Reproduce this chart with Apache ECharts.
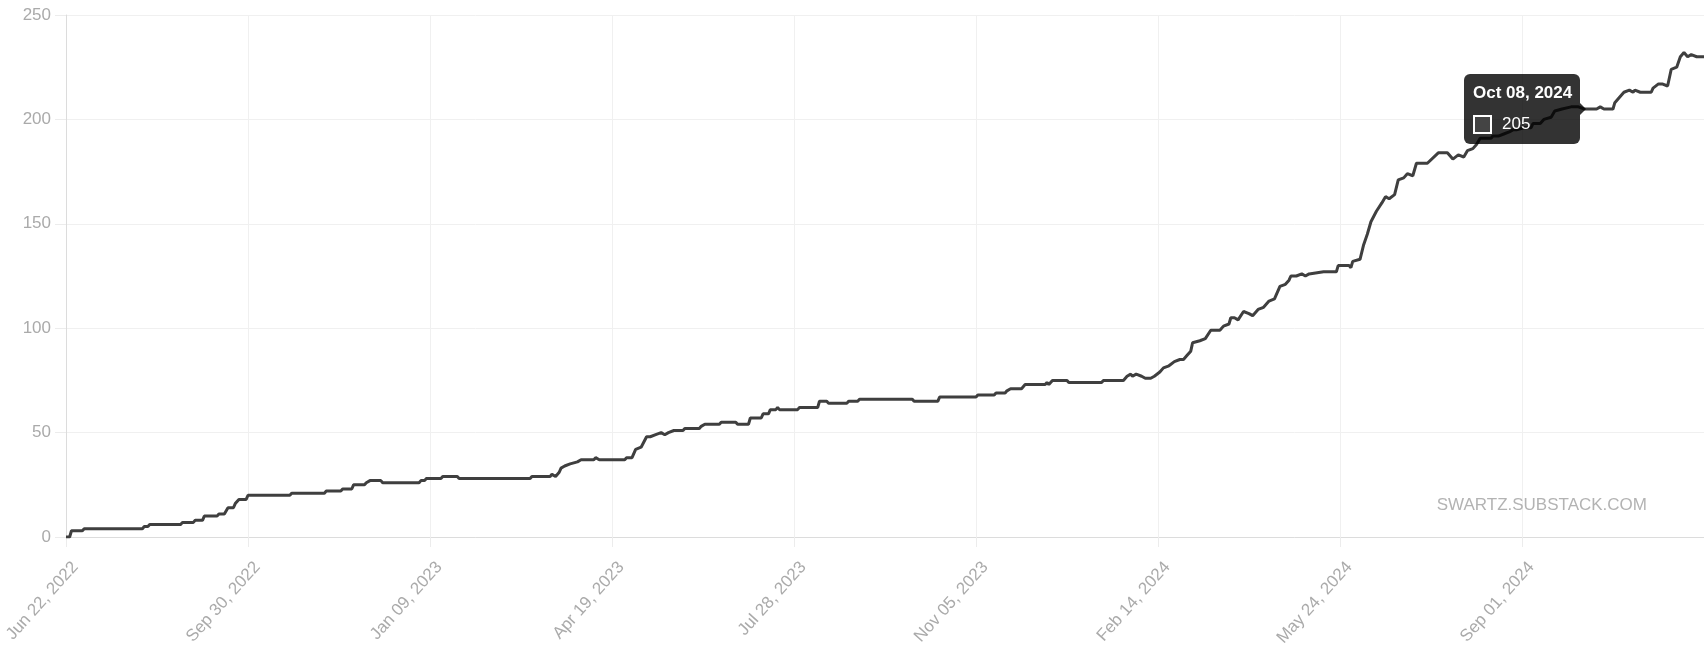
<!DOCTYPE html>
<html><head><meta charset="utf-8">
<script src="https://cdn.jsdelivr.net/npm/echarts@6/dist/echarts.min.js"></script>
<style>html,body{margin:0;padding:0;background:#fff}#c{width:1704px;height:651px}</style>
</head><body><div id="c"></div>
<script>
// x tick labels (one every 100 points)
const tickLabels = ['Jun 22, 2022','Sep 30, 2022','Jan 09, 2023','Apr 19, 2023','Jul 28, 2023','Nov 05, 2023','Feb 14, 2024','May 24, 2024','Sep 01, 2024'];
const lastIndex = 900;
// break points of the cumulative count (point index, value)
const dayIdx = [0,2,3,9,10,42,43,45,46,63,64,70,71,75,76,83,84,87,89,92,93,95,99,100,123,124,142,143,151,152,157,158,164,165,167,173,174,194,195,197,198,206,207,215,216,255,256,266,267,269,271,272,274,277,281,283,290,291,293,307,308,311,313,316,319,321,324,327,329,331,334,339,340,348,349,351,359,360,368,369,375,376,382,383,386,387,390,391,392,402,403,413,414,418,419,429,430,435,436,465,466,479,480,500,501,510,511,516,517,519,525,527,538,539,540,541,542,550,551,569,570,581,583,585,586,588,591,593,596,598,601,603,606,609,612,614,616,618,619,623,626,629,634,636,639,640,642,644,647,650,652,655,658,661,664,665,667,670,672,673,676,679,681,683,691,698,699,705,706,707,711,713,715,717,720,723,725,727,730,732,735,737,740,742,748,754,759,762,765,768,770,773,775,777,783,784,787,790,793,795,797,801,805,806,810,812,816,818,822,827,831,834,837,841,843,845,850,851,853,856,859,861,862,865,871,872,875,877,880,882,885,887,889,891,893,896,900];
const counts = [0,0,3,3,4,4,5,5,6,6,7,7,8,8,10,10,11,11,14,14,16,18,18,20,20,21,21,22,22,23,23,25,25,26,27,27,26,26,27,27,28,28,29,29,28,28,29,29,30,29,31,33,34,35,36,37,37,38,37,37,38,38,42,43,48,48,49,50,49,50,51,51,52,52,53,54,54,55,55,54,54,57,57,59,59,61,61,62,61,61,62,62,65,65,64,64,65,65,66,66,65,65,67,67,68,68,69,69,70,71,71,73,73,74,73,73,75,75,74,74,75,75,77,78,77,78,77,76,76,77,79,81,82,84,85,85,87,89,93,94,95,99,99,101,102,105,105,104,108,107,106,109,110,113,114,114,120,121,123,125,125,126,125,126,127,127,130,130,129,132,133,140,145,151,156,160,163,162,164,171,172,174,173,179,179,184,184,181,183,182,185,186,188,191,191,192,192,193,194,195,195,196,196,198,198,200,201,204,205,206,206,205,205,205,206,205,205,208,210,213,214,213,214,213,213,215,217,217,216,224,225,230,232,230,231,230,230];
const tipIndex = 837;
const tipLabel = 'Oct 08, 2024';
const watermark = 'SWARTZ.SUBSTACK.COM';

const FONT = "'Liberation Sans', Arial, Helvetica, sans-serif";
const seriesData = dayIdx.map((d, k) => [d, counts[k]]);
const tipDataIndex = dayIdx.indexOf(tipIndex);

const chart = echarts.init(document.getElementById('c'), null, {renderer: 'canvas'});
chart.setOption({
  animation: false,
  backgroundColor: '#fff',
  grid: {left: 66, right: 0, top: 15, bottom: 114, containLabel: false, outerBoundsMode: 'none'},
  xAxis: {
    type: 'value', min: 0, max: lastIndex, interval: 100,
    axisLine: {show: true, lineStyle: {color: '#dcdcdc', width: 1}},
    axisTick: {show: true, length: 10, lineStyle: {color: '#ececec'}},
    splitLine: {show: true, lineStyle: {color: '#f0f0f0', width: 1}},
    axisLabel: {
      rotate: 48, margin: 19, verticalAlign: 'top', padding: [4, 0, 0, 0], color: '#aaaaaa', fontSize: 17, fontFamily: FONT,
      showMaxLabel: false,
      formatter: v => (v % 100 === 0 && tickLabels[v / 100]) ? tickLabels[v / 100] : ''
    }
  },
  yAxis: {
    type: 'value', min: 0, max: 250, interval: 50,
    axisLine: {show: true, lineStyle: {color: '#dcdcdc', width: 1}},
    axisTick: {show: true, length: 11, lineStyle: {color: '#ececec'}},
    splitLine: {show: true, lineStyle: {color: '#f0f0f0', width: 1}},
    axisLabel: {margin: 15, color: '#aaaaaa', fontSize: 17, fontFamily: FONT}
  },
  tooltip: {
    trigger: 'item', triggerOn: 'none', alwaysShowContent: true, transitionDuration: 0,
    padding: 0, backgroundColor: 'transparent', borderWidth: 0, borderColor: 'transparent',
    extraCssText: 'box-shadow:none;',
    position: function (point, params, dom, rect, size) {
      return [point[0] - size.contentSize[0] - 9, point[1] - size.contentSize[1] / 2];
    },
    formatter: function (p) {
      return '<div style="position:relative;width:116px;height:70px;box-sizing:border-box;padding:9px 0 0 9px;background:rgba(0,0,0,0.8);border-radius:6px;font-family:' + FONT.replace(/'/g, '') + ';color:#fff;">' +
        '<div style="font-weight:bold;font-size:17px;line-height:20px;">' + tipLabel + '</div>' +
        '<div style="margin-top:11px;font-size:17px;line-height:20px;display:flex;align-items:center;">' +
        '<span style="display:inline-block;width:15px;height:15px;border:2px solid #fff;background:#444;margin-right:10px;"></span>' + p.value[1] + '</div>' +
        '<div style="position:absolute;right:-6px;top:29px;width:0;height:0;border-top:6px solid transparent;border-bottom:6px solid transparent;border-left:6px solid rgba(0,0,0,0.8);"></div>' +
        '</div>';
    }
  },
  graphic: [{
    type: 'text', z: 10,
    style: {text: watermark, x: 1647, y: 505, align: 'right', verticalAlign: 'middle', textAlign: 'right', textVerticalAlign: 'middle', fill: '#b3b3b3', font: '17px ' + FONT}
  }],
  series: [{
    type: 'line', data: seriesData,
    showSymbol: true, symbol: 'circle', symbolSize: 2, itemStyle: {opacity: 0},
    lineStyle: {color: '#3f3f3f', width: 3},
    emphasis: {disabled: true},
    smooth: false
  }]
});
chart.dispatchAction({type: 'showTip', seriesIndex: 0, dataIndex: tipDataIndex});
setTimeout(() => chart.dispatchAction({type: 'showTip', seriesIndex: 0, dataIndex: tipDataIndex}), 50);
</script>
</body></html>
